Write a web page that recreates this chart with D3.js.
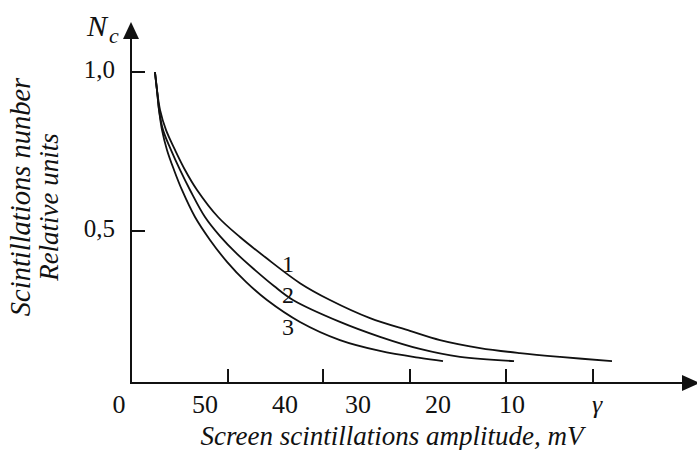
<!DOCTYPE html>
<html>
<head>
<meta charset="utf-8">
<script src="https://cdn.jsdelivr.net/npm/d3@7"></script>
<style>
  body { margin: 0; background: #fff; }
</style>
</head>
<body>
<svg id="chart"></svg>
<script>
// curves: [position along amplitude axis, relative number of scintillations]
const curve1 = [
  [0.259, 1.000], [0.281, 0.943], [0.314, 0.881], [0.378, 0.818], [0.476, 0.755],
  [0.584, 0.692], [0.714, 0.629], [0.941, 0.544], [1.178, 0.481],
  [1.449, 0.418], [1.827, 0.336], [2.151, 0.283], [2.584, 0.226], [3.016, 0.186],
  [3.341, 0.157], [3.773, 0.132], [4.205, 0.116], [4.638, 0.104], [5.200, 0.091]
];
const curve2 = [
  [0.259, 1.000], [0.281, 0.943], [0.303, 0.881], [0.346, 0.818], [0.432, 0.755],
  [0.530, 0.692], [0.638, 0.629], [0.800, 0.544], [0.962, 0.484], [1.146, 0.428],
  [1.341, 0.377], [1.546, 0.327], [1.751, 0.283], [2.259, 0.214], [2.692, 0.167],
  [3.124, 0.129], [3.557, 0.104], [4.141, 0.091]
];
const curve3 = [
  [0.259, 1.000], [0.281, 0.943], [0.303, 0.881], [0.335, 0.818], [0.389, 0.755],
  [0.465, 0.692], [0.551, 0.629], [0.692, 0.544], [0.854, 0.472], [1.038, 0.403],
  [1.243, 0.340], [1.470, 0.283], [1.827, 0.214], [2.259, 0.157], [2.692, 0.123],
  [3.124, 0.101], [3.373, 0.091]
];
const curveNames = ["1", "2", "3"];
const curveLabelAt = [[1.697, 0.372], [1.697, 0.274], [1.697, 0.173]];

// x axis: tick marks and the labels printed below them
const xTicks = [1.049, 2.076, 3.016, 4.054, 4.995];
const xLabels = ["0", "50", "40", "30", "20", "10", "γ"];
const xLabelAt = [-0.13, 0.80, 1.665, 2.454, 3.319, 4.119, 5.038];

const yTicks = [0.5, 1.0];
const yLabels = ["0,5", "1,0"];

const width = 697, height = 450;
const serif = "'Liberation Serif', 'Times New Roman', Times, 'DejaVu Serif', serif";
const svg = d3.select("#chart")
  .attr("width", width)
  .attr("height", height)
  .attr("font-family", serif)
  .attr("fill", "#111");

const x = d3.scaleLinear().domain([0, 6.119]).range([131, 697]);
const y = d3.scaleLinear().domain([0, 1]).range([390, 72]);
const axisY = 383;   // baseline where the x axis is drawn
const x0 = x(0);

// axes
svg.append("line")
  .attr("x1", x0).attr("y1", axisY).attr("x2", x0).attr("y2", 36)
  .attr("stroke", "#111").attr("stroke-width", 2);
svg.append("path")
  .attr("d", `M${x0},22 L${x0 - 8},39 L${x0 + 8},39 Z`)
  .attr("fill", "#111");

svg.append("line")
  .attr("x1", x0 - 1).attr("y1", axisY).attr("x2", 684).attr("y2", axisY)
  .attr("stroke", "#111").attr("stroke-width", 2);
svg.append("path")
  .attr("d", `M700,${axisY} L682,${axisY - 8} L682,${axisY + 8} Z`)
  .attr("fill", "#111");

// y ticks
yTicks.forEach((t, i) => {
  svg.append("line")
    .attr("x1", x0).attr("y1", y(t)).attr("x2", x0 + 14).attr("y2", y(t))
    .attr("stroke", "#111").attr("stroke-width", 2);
  svg.append("text")
    .attr("x", 115).attr("y", y(t) + 6)
    .attr("text-anchor", "end")
    .attr("font-size", 25)
    .text(yLabels[i]);
});

// x ticks
xTicks.forEach(t => {
  svg.append("line")
    .attr("x1", x(t)).attr("y1", axisY).attr("x2", x(t)).attr("y2", axisY - 14)
    .attr("stroke", "#111").attr("stroke-width", 2);
});
xLabels.forEach((lab, i) => {
  svg.append("text")
    .attr("x", x(xLabelAt[i])).attr("y", 413)
    .attr("text-anchor", "middle")
    .attr("font-size", 26)
    .attr("font-style", lab === "γ" ? "italic" : null)
    .text(lab);
});

// curves
const line = d3.line()
  .x(d => x(d[0]))
  .y(d => y(d[1]))
  .curve(d3.curveCatmullRom.alpha(0.5));

[curve1, curve2, curve3].forEach((c, i) => {
  svg.append("path")
    .attr("d", line(c))
    .attr("fill", "none")
    .attr("stroke", "#111")
    .attr("stroke-width", 1.8);
  svg.append("text")
    .attr("x", x(curveLabelAt[i][0])).attr("y", y(curveLabelAt[i][1]))
    .attr("text-anchor", "middle")
    .attr("font-size", 24)
    .text(curveNames[i]);
});

// axis titles
const nc = svg.append("text")
  .attr("x", 87).attr("y", 36)
  .attr("font-style", "italic")
  .attr("font-size", 30)
  .text("N");
nc.append("tspan")
  .attr("dx", 2).attr("dy", 7)
  .attr("font-size", 22)
  .text("c");

svg.append("text")
  .attr("transform", "translate(30,197) rotate(-90)")
  .attr("text-anchor", "middle")
  .attr("font-style", "italic")
  .attr("font-size", 28.5)
  .text("Scintillations nunber");
svg.append("text")
  .attr("transform", "translate(58,207) rotate(-90)")
  .attr("text-anchor", "middle")
  .attr("font-style", "italic")
  .attr("font-size", 27)
  .text("Relative units");

svg.append("text")
  .attr("x", 392).attr("y", 445)
  .attr("text-anchor", "middle")
  .attr("font-style", "italic")
  .attr("font-size", 27)
  .text("Screen scintillations amplitude, mV");
</script>
</body>
</html>
